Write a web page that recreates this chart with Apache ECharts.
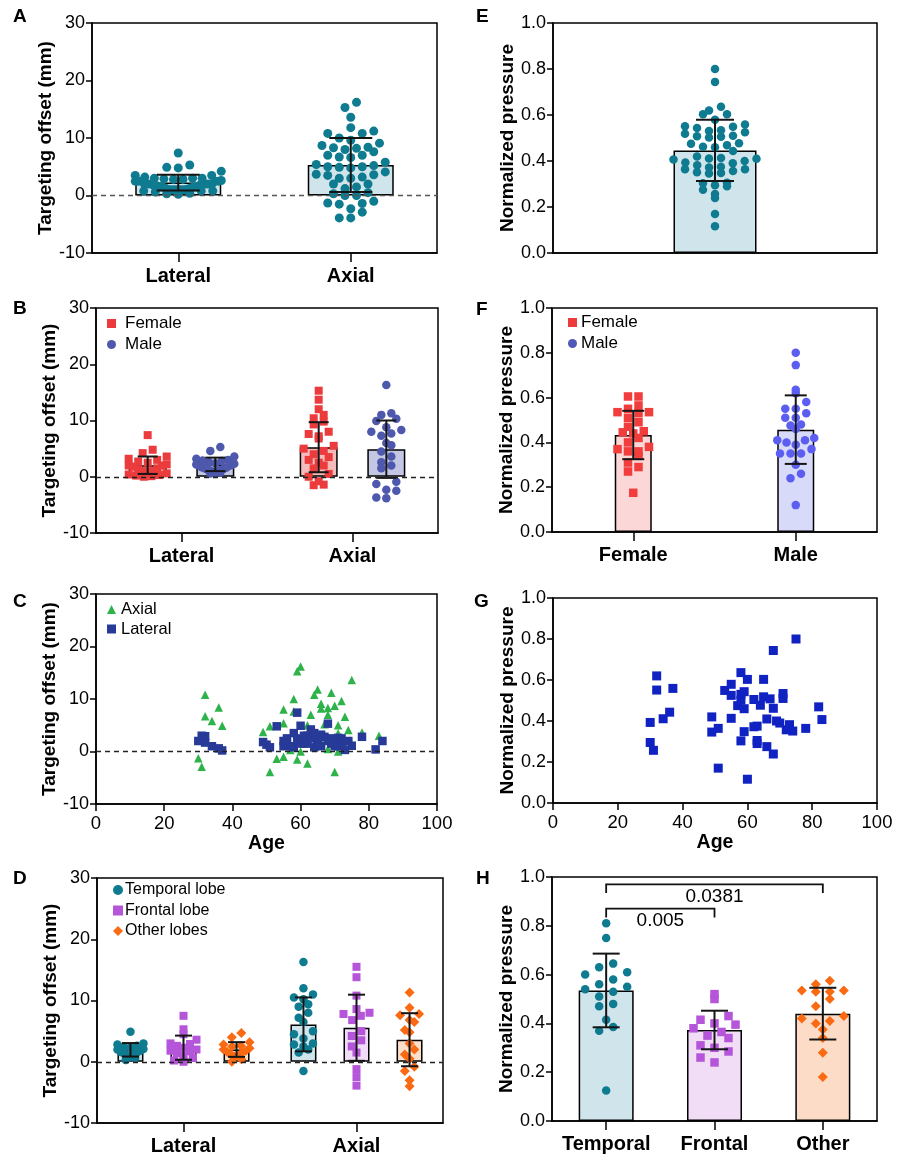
<!DOCTYPE html>
<html><head><meta charset="utf-8">
<script src="https://cdn.jsdelivr.net/npm/echarts@6/dist/echarts.min.js"></script>
<style>html,body{margin:0;padding:0;background:#fff}#chart{width:898px;height:1161px}</style>
</head><body><div id="chart"></div>
<script>
// ---------------- DATA ----------------
// Panels A & C: targeting offsets by age
const ageLateral = [30,31,32,32,34,36,37,49,50,51,53,55,55,56,56,57,58,58,59,59,60,60,60,61,62,62,63,63,64,64,65,65,66,66,67,68,68,69,69,70,71,71,72,72,73,74,75,78,82,84];
const lateralOffset = [2.0,3.0,2.9,1.7,1.0,0.6,0.2,1.8,1.3,0.8,4.8,2.0,1.0,2.5,1.5,1.0,3.5,0.8,7.4,2.0,4.9,1.5,2.5,3.0,1.5,3.0,4.2,2.5,0.8,3.5,2.0,1.2,1.0,3.2,2.8,5.3,2.0,2.5,1.5,1.0,2.6,1.0,1.8,2.5,0.3,2.0,1.1,2.8,0.4,2.0];
const ageAxial = [30,31,32,32,34,36,37,49,51,51,53,55,55,55,56,57,58,58,59,59,60,60,61,62,62,63,63,64,64,65,66,66,66,67,68,68,68,69,70,70,71,71,71,72,73,73,74,75,78,83];
const axialOffset = [-1.3,-2.9,10.8,6.7,5.8,8.4,4.9,3.7,4.8,-3.9,-1.4,8.0,5.4,-1.0,2.0,0.3,10.0,7.6,15.3,-1.5,16.2,0.0,1.5,-2.3,5.0,7.0,3.0,10.8,3.2,11.8,9.1,8.2,2.0,5.2,8.3,7.0,0.5,11.2,8.7,-3.9,5.0,0.0,3.5,9.6,6.6,1.2,4.1,13.6,3.6,3.0];
const offsetCategories = ['Lateral','Axial'];
const meanOffsetAll = [2.25, 5.3];
const sdOffsetAll = [1.37, 4.7];

// Panel B: by sex
const femaleLateral = [7.4,4.8,4.2,3.6,3.2,3.0,2.7,2.5,2.2,2.0,2.0,1.8,1.5,1.3,1.0,1.0,0.8,0.6,0.4,0.3,0.2,0.0,0.1];
const maleLateral = [5.3,4.6,3.6,3.2,3.0,2.8,2.6,2.4,2.3,2.1,2.0,1.9,1.7,1.5,1.4,1.2,1.1,1.0,0.9,0.8,0.7,0.6,1.6,2.9,2.2,1.3];
const femaleAxial = [15.3,13.7,12.0,11.0,10.4,9.8,9.3,8.0,7.6,7.2,6.8,5.5,5.0,4.6,4.0,3.5,3.0,2.5,2.0,1.5,0.5,0.0,-0.8,-1.4,-1.5];
const maleAxial = [16.3,11.3,11.0,10.3,9.9,8.8,8.3,8.0,7.7,7.3,6.0,5.6,4.5,3.6,2.6,2.0,1.5,-0.9,-1.3,-2.3,-2.5,-3.7,-3.8];
const meanFemaleOffset = [2.05, 5.25];
const sdFemaleOffset = [1.55, 4.45];
const meanMaleOffset = [2.2, 4.9];
const sdMaleOffset = [1.2, 5.1];

// Panel D: by lobe
const lobeNames = ['Temporal lobe','Frontal lobe','Other lobes'];
const temporalLateral = [4.9,3.0,2.8,2.5,2.3,2.1,2.0,1.8,1.6,1.4,1.2,1.0,0.8,0.6,0.3,1.5,2.6];
const frontalLateral = [7.5,5.3,4.5,3.6,3.0,2.6,2.3,2.0,1.7,1.4,1.0,0.6,0.2,0.0,2.9,1.8];
const otherLateral = [4.7,4.0,3.2,2.8,2.5,2.2,2.0,1.8,1.5,1.2,1.0,0.8,0.4,0.0,2.6,1.6];
const temporalAxial = [16.3,12.0,11.0,10.5,10.2,9.4,9.0,8.0,7.2,6.5,5.0,4.5,3.8,3.0,2.5,2.0,-1.5,1.5,2.8];
const frontalAxial = [15.5,13.8,10.8,8.6,8.0,7.8,7.5,6.8,4.2,3.5,2.5,1.5,-1.2,-2.5,-3.9,5.0];
const otherAxial = [11.3,8.8,7.8,7.6,6.8,6.5,5.2,4.8,3.0,2.0,1.2,-0.8,-1.5,-3.0,-4.0,0.5];
const meanTemporalOffset = [1.95, 6.1];
const sdTemporalOffset = [1.1, 4.4];
const meanFrontalOffset = [2.3, 5.55];
const sdFrontalOffset = [1.97, 5.4];
const meanOtherOffset = [2.0, 3.6];
const sdOtherOffset = [1.2, 4.33];

// Panels E & G: normalized pressure by age
const agePressure = [30,30,31,32,32,34,36,37,49,49,51,51,53,55,55,55,57,58,58,58,58,59,59,59,60,60,62,62,63,63,63,64,65,65,66,66,67,68,68,68,69,70,71,71,72,73,74,75,78,82,83];
const pressure = [0.393,0.295,0.257,0.62,0.551,0.411,0.443,0.559,0.42,0.346,0.364,0.17,0.549,0.579,0.525,0.413,0.475,0.636,0.53,0.502,0.303,0.543,0.46,0.348,0.603,0.116,0.505,0.372,0.375,0.305,0.29,0.477,0.603,0.518,0.41,0.275,0.508,0.744,0.462,0.239,0.40,0.39,0.534,0.51,0.357,0.382,0.351,0.80,0.364,0.469,0.407];
const meanPressureAll = [0.446];
const sdPressureAll = [0.133];

// Panel F
const sexCategories = ['Female','Male'];
const femalePressure = [0.605,0.605,0.565,0.55,0.535,0.535,0.53,0.51,0.49,0.47,0.45,0.44,0.42,0.40,0.38,0.37,0.36,0.34,0.31,0.29,0.27,0.175,0.445,0.36];
const malePressure = [0.80,0.745,0.635,0.62,0.58,0.55,0.53,0.51,0.48,0.475,0.46,0.42,0.41,0.40,0.39,0.37,0.35,0.35,0.30,0.26,0.24,0.12,0.55,0.41,0.35,0.51];
const meanPressureSex = [0.433, 0.457];
const sdPressureSex = [0.108, 0.153];

// Panel H
const lobeCategories = ['Temporal','Frontal','Other'];
const temporalPressure = [0.81,0.75,0.645,0.63,0.61,0.60,0.58,0.56,0.55,0.54,0.53,0.51,0.48,0.47,0.415,0.385,0.37,0.125];
const frontalPressure = [0.52,0.50,0.43,0.415,0.40,0.395,0.38,0.365,0.35,0.34,0.31,0.30,0.285,0.26,0.24];
const otherPressure = [0.575,0.56,0.535,0.53,0.53,0.50,0.47,0.43,0.42,0.41,0.40,0.375,0.34,0.28,0.18,0.535];
const meanPressureLobe = [0.535, 0.373, 0.44];
const sdPressureLobe = [0.151, 0.079, 0.106];
const bracketFrom = [0, 0];
const bracketTo = [1, 2];
const bracketY = [0.87, 0.97];
const bracketP = ['0.005', '0.0381'];

// Axis ranges
const offsetAxis = {min: -10, max: 30, interval: 10};
const pressureAxis = {min: 0, max: 1, interval: 0.2};
const ageAxis = {min: 0, max: 100, interval: 20};

// ---------------- STYLE / BUILD ----------------
const FONT = "'Liberation Sans', Arial, Helvetica, sans-serif";
const AX = {color: '#000', width: 1.5};
const TEAL = '#0f7b90', PURPLE = '#b455da', ORANGE = '#fa6a12';
const grid = [], xAxis = [], yAxis = [], series = [], legend = [], graphic = [];

function addGrid(r) {
  grid.push({left: r.left, top: r.top, width: r.width, height: r.height, show: true,
    borderColor: '#000', borderWidth: 1.5, backgroundColor: 'transparent', containLabel: false, outerBoundsMode: 'none'});
  return grid.length - 1;
}
function valueY(g, ax, name, gap, dec) {
  yAxis.push({type: 'value', gridIndex: g, min: ax.min, max: ax.max, interval: ax.interval,
    name, nameLocation: 'middle', nameGap: gap, nameRotate: 90,
    nameTextStyle: {fontFamily: FONT, fontWeight: 'bold', fontSize: 19, color: '#000'},
    axisLine: {show: true, onZero: false, lineStyle: AX},
    axisTick: {show: true, inside: false, length: 6, lineStyle: AX},
    axisLabel: {fontFamily: FONT, fontSize: 18, color: '#000', margin: 7,
      formatter: v => dec ? v.toFixed(dec) : String(Math.round(v))},
    splitLine: {show: false}});
  return yAxis.length - 1;
}
function valueX(g, ax, name) {
  xAxis.push({type: 'value', gridIndex: g, min: ax.min, max: ax.max, interval: ax.interval,
    name, nameLocation: 'middle', nameGap: 30,
    nameTextStyle: {fontFamily: FONT, fontWeight: 'bold', fontSize: 19.5, color: '#000'},
    axisLine: {show: true, onZero: false, lineStyle: AX},
    axisTick: {show: true, length: 7, lineStyle: AX},
    axisLabel: {fontFamily: FONT, fontSize: 18.5, color: '#000', margin: 10},
    splitLine: {show: false}});
  return xAxis.length - 1;
}
function catX(g, data, show) {
  xAxis.push({type: 'category', gridIndex: g, data, boundaryGap: true,
    axisLine: {show: true, onZero: false, lineStyle: AX},
    axisTick: {show: show, alignWithLabel: true, interval: 0, length: 9, lineStyle: AX},
    axisLabel: {show: show, interval: 0, hideOverlap: false, fontFamily: FONT, fontWeight: 'bold', fontSize: 20, color: '#000', margin: 13},
    splitLine: {show: false}});
  return xAxis.length - 1;
}
function hiddenX(g, n) {
  xAxis.push({type: 'value', gridIndex: g, min: 0, max: n, show: false, splitLine: {show: false}});
  return xAxis.length - 1;
}
function swarm(vals, pxPerUnit, binH, spacing, maxWidth) {
  const bins = new Map();
  vals.forEach((v, i) => {
    const b = Math.round(v * pxPerUnit / binH);
    if (!bins.has(b)) bins.set(b, []);
    bins.get(b).push(i);
  });
  const off = new Array(vals.length).fill(0);
  bins.forEach(idx => {
    const n = idx.length;
    if (n < 2) return;
    idx.sort((a, b) => vals[a] - vals[b]);
    const s = Math.min(spacing, maxWidth / (n - 1));
    const pos = idx.map((_, j) => (j - (n - 1) / 2) * s).sort((a, b) => Math.abs(a) - Math.abs(b));
    idx.forEach((id, j) => { off[id] = pos[j]; });
  });
  return off;
}
function makeErr(offPx, capHalf) {
  return function (params, api) {
    const lo = api.coord([api.value(0), api.value(1)]);
    const hi = api.coord([api.value(0), api.value(2)]);
    const x = lo[0] + offPx;
    const style = {stroke: '#151515', lineWidth: 2, fill: null};
    return {type: 'group', children: [
      {type: 'line', shape: {x1: x, y1: hi[1], x2: x, y2: lo[1]}, style},
      {type: 'line', shape: {x1: x - capHalf, y1: hi[1], x2: x + capHalf, y2: hi[1]}, style},
      {type: 'line', shape: {x1: x - capHalf, y1: lo[1], x2: x + capHalf, y2: lo[1]}, style}
    ]};
  };
}
function zeroLine(color) {
  return {silent: true, symbol: 'none', label: {show: false}, animation: false,
    lineStyle: {type: [5, 4], color, width: 1.4}, data: [{yAxis: 0}]};
}
function addLegend(left, top, items, fontSize, gap, size, textPad) {
  legend.push({orient: 'vertical', left, top, padding: 0, itemGap: gap, itemWidth: size, itemHeight: size,
    selectedMode: false,
    textStyle: {fontFamily: FONT, fontSize, color: '#000', padding: [0, 0, 0, textPad]},
    data: items.map(it => ({name: it[0], icon: it[1], itemStyle: {color: it[2], borderWidth: 0}}))});
}
function letter(t, left, top) {
  graphic.push({type: 'text', left, top, style: {text: t, font: 'bold 19px ' + FONT, fill: '#000'}});
}

function barPanel(cfg) {
  const g = addGrid(cfg.rect);
  const xi = catX(g, cfg.cats, cfg.showCats !== false);
  const hxi = hiddenX(g, cfg.cats.length);
  const yi = valueY(g, cfg.yAxis, cfg.yName, cfg.nameGap, cfg.dec);
  const nG = cfg.groups.length;
  const band = cfg.rect.width / cfg.cats.length;
  const pxPerUnit = cfg.rect.height / (cfg.yAxis.max - cfg.yAxis.min);
  const groupOff = k => (k - (nG - 1) / 2) * cfg.barWidth * (1 + cfg.gapRatio);
  cfg.groups.forEach((grp, k) => {
    const s = {type: 'bar', name: cfg.id + ' bar ' + k, xAxisIndex: xi, yAxisIndex: yi, silent: true,
      data: grp.means.map((m, i) => ({value: m, itemStyle: {color: grp.fills[i]}})),
      barWidth: cfg.barWidth, barGap: (cfg.gapRatio * 100) + '%',
      itemStyle: {borderColor: '#000', borderWidth: 1.5}, z: 2};
    if (k === 0 && cfg.zero) s.markLine = zeroLine(cfg.zero);
    series.push(s);
  });
  cfg.points.forEach(p => {
    const offs = swarm(p.values, pxPerUnit, cfg.binH, cfg.spacing, cfg.barWidth);
    const gOff = groupOff(p.group || 0);
    series.push({type: 'scatter', name: p.name, xAxisIndex: hxi, yAxisIndex: yi, silent: true,
      data: p.values.map((v, j) => [p.cat + 0.5 + (gOff + offs[j]) / band, v]),
      symbol: p.symbol, symbolSize: p.size, itemStyle: {color: p.color, opacity: 1}, z: 3});
  });
  cfg.groups.forEach((grp, k) => {
    series.push({type: 'custom', name: cfg.id + ' sd ' + k, xAxisIndex: xi, yAxisIndex: yi, silent: true,
      encode: {x: 0, y: 1},
      data: grp.means.map((m, i) => [i, m - grp.sds[i], m + grp.sds[i]]),
      renderItem: makeErr(groupOff(k), cfg.capHalf), z: 4});
  });
  return {g, xi, yi};
}

// Panel A
barPanel({id: 'A', rect: {left: 92, top: 23, width: 345, height: 230}, cats: offsetCategories,
  yAxis: offsetAxis, yName: 'Targeting offset (mm)', nameGap: 30, dec: 0,
  groups: [{means: meanOffsetAll, sds: sdOffsetAll, fills: ['#cfe5eb', '#cfe5eb']}],
  barWidth: 86, gapRatio: 0, capHalf: 21.5, binH: 10, spacing: 11.5, zero: '#555',
  points: [{name: 'All lateral', cat: 0, values: lateralOffset, color: TEAL, symbol: 'circle', size: 9},
           {name: 'All axial', cat: 1, values: axialOffset, color: TEAL, symbol: 'circle', size: 9}]});
letter('A', 13, 7);

// Panel E
barPanel({id: 'E', rect: {left: 553, top: 23, width: 324, height: 230}, cats: [''], showCats: false,
  yAxis: pressureAxis, yName: 'Normalized pressure', nameGap: 36, dec: 1,
  groups: [{means: meanPressureAll, sds: sdPressureAll, fills: ['#cfe5eb']}],
  barWidth: 83, gapRatio: 0, capHalf: 19, binH: 9, spacing: 12, zero: null,
  points: [{name: 'All pressure', cat: 0, values: pressure, color: TEAL, symbol: 'circle', size: 8.5}]});
letter('E', 476, 7);

// Panel B
barPanel({id: 'B', rect: {left: 96, top: 308, width: 342, height: 225}, cats: offsetCategories,
  yAxis: offsetAxis, yName: 'Targeting offset (mm)', nameGap: 33, dec: 0,
  groups: [{means: meanFemaleOffset, sds: sdFemaleOffset, fills: ['#f5baba', '#f5baba']},
           {means: meanMaleOffset, sds: sdMaleOffset, fills: ['#c4c7e3', '#c4c7e3']}],
  barWidth: 38, gapRatio: 0.78, capHalf: 10, binH: 9, spacing: 10, zero: '#222',
  points: [{name: 'Female', group: 0, cat: 0, values: femaleLateral, color: '#eb3b3d', symbol: 'rect', size: 8},
           {name: 'Female', group: 0, cat: 1, values: femaleAxial, color: '#eb3b3d', symbol: 'rect', size: 8},
           {name: 'Male', group: 1, cat: 0, values: maleLateral, color: '#4e58ad', symbol: 'circle', size: 8.5},
           {name: 'Male', group: 1, cat: 1, values: maleAxial, color: '#4e58ad', symbol: 'circle', size: 8.5}]});
addLegend(107, 315, [['Female', 'rect', '#eb3b3d'], ['Male', 'circle', '#4e58ad']], 17, 4, 9, 4);
letter('B', 13, 299);

// Panel F
barPanel({id: 'F', rect: {left: 552, top: 308, width: 325, height: 224}, cats: sexCategories,
  yAxis: pressureAxis, yName: 'Normalized pressure', nameGap: 33, dec: 1,
  groups: [{means: meanPressureSex, sds: sdPressureSex, fills: ['#fbd7d7', '#d8daf9']}],
  barWidth: 37, gapRatio: 0, capHalf: 11, binH: 9, spacing: 10.5, zero: null,
  points: [{name: 'Female', cat: 0, values: femalePressure, color: '#f23d3d', symbol: 'rect', size: 8.5},
           {name: 'Male', cat: 1, values: malePressure, color: '#5b5ef0', symbol: 'circle', size: 8.5}]});
addLegend(568, 314, [['Female', 'rect', '#ee3b3b'], ['Male', 'circle', '#5058b8']], 17, 4, 9, -1);
letter('F', 476, 300);

// Panel C
(function () {
  const g = addGrid({left: 96, top: 594, width: 341, height: 210});
  const xi = valueX(g, ageAxis, 'Age');
  const yi = valueY(g, offsetAxis, 'Targeting offset (mm)', 33, 0);
  series.push({type: 'scatter', name: 'Axial', xAxisIndex: xi, yAxisIndex: yi, silent: true,
    data: ageAxial.map((a, i) => [a, axialOffset[i]]), symbol: 'triangle', symbolSize: 8.5,
    itemStyle: {color: '#2eb24a', opacity: 1}, z: 3, markLine: zeroLine('#222')});
  series.push({type: 'scatter', name: 'Lateral', xAxisIndex: xi, yAxisIndex: yi, silent: true,
    data: ageLateral.map((a, i) => [a, lateralOffset[i]]), symbol: 'rect', symbolSize: 8.5,
    itemStyle: {color: '#273a98', opacity: 1}, z: 4});
  addLegend(107, 601, [['Axial', 'triangle', '#2eb24a'], ['Lateral', 'rect', '#273a98']], 16.5, 2.5, 9, 0);
  letter('C', 13, 592);
})();

// Panel G
(function () {
  const g = addGrid({left: 553, top: 598, width: 324, height: 205});
  const xi = valueX(g, ageAxis, 'Age');
  const yi = valueY(g, pressureAxis, 'Normalized pressure', 34, 1);
  series.push({type: 'scatter', name: 'Pressure by age', xAxisIndex: xi, yAxisIndex: yi, silent: true,
    data: agePressure.map((a, i) => [a, pressure[i]]), symbol: 'rect', symbolSize: 9,
    itemStyle: {color: '#1122c3', opacity: 1}, z: 3});
  letter('G', 474, 592);
})();

// Panel D
barPanel({id: 'D', rect: {left: 97, top: 878, width: 346, height: 245}, cats: offsetCategories,
  yAxis: offsetAxis, yName: 'Targeting offset (mm)', nameGap: 34, dec: 0,
  groups: [{means: meanTemporalOffset, sds: sdTemporalOffset, fills: ['#cfe5eb', '#cfe5eb']},
           {means: meanFrontalOffset, sds: sdFrontalOffset, fills: ['#f0dcf6', '#f0dcf6']},
           {means: meanOtherOffset, sds: sdOtherOffset, fills: ['#fde0cc', '#fde0cc']}],
  barWidth: 26, gapRatio: 1.04, capHalf: 8.5, binH: 9, spacing: 9.5, zero: '#222',
  points: [{name: lobeNames[0], group: 0, cat: 0, values: temporalLateral, color: TEAL, symbol: 'circle', size: 8.5},
           {name: lobeNames[0], group: 0, cat: 1, values: temporalAxial, color: TEAL, symbol: 'circle', size: 8.5},
           {name: lobeNames[1], group: 1, cat: 0, values: frontalLateral, color: PURPLE, symbol: 'rect', size: 8},
           {name: lobeNames[1], group: 1, cat: 1, values: frontalAxial, color: PURPLE, symbol: 'rect', size: 8},
           {name: lobeNames[2], group: 2, cat: 0, values: otherLateral, color: ORANGE, symbol: 'diamond', size: 10},
           {name: lobeNames[2], group: 2, cat: 1, values: otherAxial, color: ORANGE, symbol: 'diamond', size: 10}]});
addLegend(113, 882, [[lobeNames[0], 'circle', TEAL], [lobeNames[1], 'rect', PURPLE], [lobeNames[2], 'diamond', ORANGE]], 16, 4.5, 10, -3);
letter('D', 13, 869);

// Panel H
(function () {
  const h = barPanel({id: 'H', rect: {left: 552, top: 877, width: 325, height: 244}, cats: lobeCategories,
    yAxis: pressureAxis, yName: 'Normalized pressure', nameGap: 35, dec: 1,
    groups: [{means: meanPressureLobe, sds: sdPressureLobe, fills: ['#cfe5eb', '#f1ddf6', '#fddcc7']}],
    barWidth: 55, gapRatio: 0, capHalf: 13.5, binH: 13, spacing: 14, zero: null,
    points: [{name: 'Temporal pts', cat: 0, values: temporalPressure, color: TEAL, symbol: 'circle', size: 8.5},
             {name: 'Frontal pts', cat: 1, values: frontalPressure, color: PURPLE, symbol: 'rect', size: 8.5},
             {name: 'Other pts', cat: 2, values: otherPressure, color: ORANGE, symbol: 'diamond', size: 10}]});
  const drop = 0.036;
  series.push({type: 'custom', name: 'H brackets', xAxisIndex: h.xi, yAxisIndex: h.yi, silent: true, z: 5,
    encode: {x: 0, y: 2},
    data: bracketFrom.map((f, i) => [f, bracketTo[i], bracketY[i]]),
    renderItem: function (params, api) {
      const y = api.value(2);
      const p1 = api.coord([api.value(0), y]);
      const p2 = api.coord([api.value(1), y]);
      const d = api.coord([api.value(0), y - drop]);
      return {type: 'group', children: [
        {type: 'polyline', shape: {points: [[p1[0], d[1]], [p1[0], p1[1]], [p2[0], p2[1]], [p2[0], d[1]]]},
          style: {stroke: '#111', lineWidth: 1.8, fill: null}},
        {type: 'text', x: (p1[0] + p2[0]) / 2, y: p1[1] + 3,
          style: {text: bracketP[params.dataIndex], font: '19px ' + FONT, fill: '#000', align: 'center', verticalAlign: 'top'}}
      ]};
    }});
  letter('H', 476, 869);
})();

const chart = echarts.init(document.getElementById('chart'), null, {renderer: 'canvas'});
chart.setOption({animation: false, backgroundColor: '#fff', grid, xAxis, yAxis, series, legend, graphic, tooltip: {show: false}});
</script>
</body></html>
